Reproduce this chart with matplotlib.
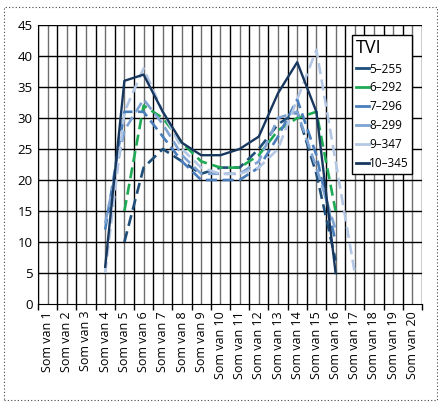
import matplotlib.pyplot as plt
from matplotlib.lines import Line2D
from matplotlib.patches import Rectangle
from matplotlib.ticker import MultipleLocator
import numpy as np

plt.rcParams['font.family'] = ['Open Sans', 'DejaVu Sans']

# categories on the x axis
categories = ['Som van %d' % i for i in range(1, 21)]

# values per series (None = no value)
s_5_255 = [None, None, None, None, 10, 22, 25, 23, 21, 22, 22, 25, 29, 31, 21, 7, None, None, None, None]
s_6_292 = [None, None, None, None, 15, 32, 30, 26, 23, 22, 22, 24, 28, 30, 31, 15, None, None, None, None]
s_7_296 = [None, None, None, 12, 31, 31, 27, 23, 20, 20, 20, 22, 27, 33, 24, 10, None, None, None, None]
s_8_299 = [None, None, None, 13, 28, 33, 29, 24, 21, 21, 21, 23, 30, 31, 22, 12, None, None, None, None]
s_9_347 = [None, None, None, 5, 31, 38, 31, 25, 22, 21, 21, 22, 25, 33, 41, 23, 5, None, None, None]
s_10_345 = [None, None, None, 6, 36, 37, 31, 26, 24, 24, 25, 27, 34, 39, 31, 5, None, None, None, None]

series = [
    ('5\u2013255', s_5_255, '#1f4e79', True),
    ('6\u2013292', s_6_292, '#1faa55', True),
    ('7\u2013296', s_7_296, '#4a7ebb', True),
    ('8\u2013299', s_8_299, '#7fa3d2', True),
    ('9\u2013347', s_9_347, '#b4c7e4', True),
    ('10\u2013345', s_10_345, '#17375e', False),
]

fig = plt.figure(figsize=(4.39, 4.03), dpi=100)
ax = fig.add_axes([38 / 439, 1 - 304 / 403, (422 - 38) / 439, (304 - 25) / 403])

x = np.arange(1, 21)

# grid: black at category boundaries, grey at category centers
for b in np.arange(0.5, 21, 1.0):
    ax.axvline(b, color='black', lw=1.0, zorder=1)
for c in x:
    ax.axvline(c, color='#6e6e6e', lw=1.0, zorder=1)
for yv in range(5, 46, 5):
    ax.axhline(yv, color='black', lw=1.0, zorder=1)

handles = []
for name, vals, col, dashed in series:
    y = np.array([np.nan if v is None else v for v in vals], dtype=float)
    if dashed:
        ax.plot(x, y, color=col, lw=1.9, dashes=(4.2, 2.1), zorder=3)
    else:
        ax.plot(x, y, color=col, lw=1.7, zorder=4)
    handles.append(Line2D([0], [0], color=col, lw=2))

ax.set_xlim(0.5, 20.5)
ax.set_ylim(0, 45)
ax.yaxis.set_major_locator(MultipleLocator(5))
ax.set_xticks(x)
ax.set_xticklabels(categories, rotation=90, fontsize=9)
ax.set_xticks(np.arange(0.5, 21, 1.0), minor=True)
ax.tick_params(axis='x', which='major', length=0, pad=5)
ax.tick_params(axis='x', which='minor', length=4, width=1, color='black', direction='out')
ax.tick_params(axis='y', length=0, labelsize=9.5, pad=4)
for side in ['top', 'right']:
    ax.spines[side].set_visible(False)
ax.spines['left'].set_color('black')
ax.spines['bottom'].set_color('black')
ax.spines['left'].set_zorder(2)

leg = ax.legend(handles, [s[0] for s in series], title='TVI', loc='upper right',
                bbox_to_anchor=(0.99, 0.985), fontsize=8.5, title_fontsize=13,
                handlelength=1.1, handletextpad=0.05, labelspacing=0.5,
                borderpad=0.3, fancybox=False, framealpha=1, edgecolor='black')
leg.get_frame().set_linewidth(1.0)
leg._legend_box.align = 'left'
leg.set_zorder(5)

# dotted frame around the chart
fig.patches.append(Rectangle((4 / 439, 3 / 403), 433 / 439, 393 / 403, transform=fig.transFigure,
                             fill=False, ls=(0, (1, 2)), lw=0.8, color='#444444'))

fig.savefig('out.png', dpi=100)
